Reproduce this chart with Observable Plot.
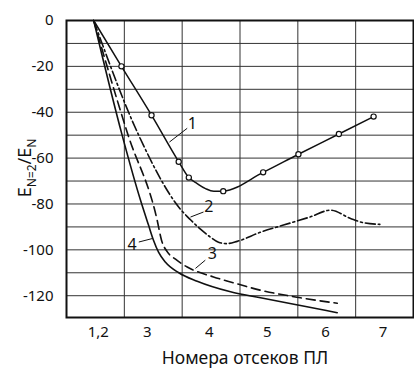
<!DOCTYPE html>
<html>
<head>
<meta charset="utf-8">
<script src="https://cdn.jsdelivr.net/npm/d3@7"></script>
<script src="https://cdn.jsdelivr.net/npm/@observablehq/plot@0.6"></script>
<style>
  html, body { margin: 0; padding: 0; background: #fff; }
  #chart svg { display: block; }
</style>
</head>
<body>
<div id="chart"></div>
<script>
// x units: compartment bands, grid lines at band edges (0.5 ... 6.5)
const xTicks = [1.05, 1.895, 2.97, 3.97, 4.98, 5.975];
const xLabels = ["1,2", "3", "4", "5", "6", "7"];
const yTicks = [0, -20, -40, -60, -80, -100, -120];

// Curve 1 (solid, with circles)
const c1x = [0.97, 1.45, 1.97, 2.44, 2.615, 2.76, 2.904, 3.047, 3.21, 3.90, 4.51, 5.21, 5.81];
const c1y = [0, -20, -41.3, -61.6, -68.5, -71.1, -73.3, -74.5, -74.4, -66.2, -58.3, -49.5, -41.9];
const m1x = [1.45, 1.97, 2.44, 2.615, 3.21, 3.90, 4.51, 5.21, 5.81];
const m1y = [-20, -41.3, -61.6, -68.5, -74.4, -66.2, -58.3, -49.5, -41.9];

// Curve 2 (dash-dot)
const c2x = [0.97, 1.75, 2.471, 2.644, 2.817, 2.99, 3.128, 3.267, 3.452, 3.855, 4.252, 4.719, 5.065, 5.411, 5.641, 5.918];
const c2y = [0, -50.1, -82.3, -86.9, -91.0, -94.5, -96.7, -97.3, -96.3, -92.3, -89.2, -85.6, -82.7, -86.3, -88.2, -88.9];

// Curve 3 (dashed)
const c3x = [0.97, 1.567, 2.068, 2.143, 2.247, 2.385, 2.587, 3.042, 3.336, 3.855, 4.546, 5.181];
const c3y = [0, -50.1, -87.1, -95.8, -101.0, -104.1, -107.5, -111.8, -114.0, -117.6, -120.9, -123.3];

// Curve 4 (solid)
const c4x = [0.97, 1.463, 1.78, 1.918, 2.004, 2.091, 2.212, 2.442, 2.76, 3.336, 3.855, 4.546, 5.181];
const c4y = [0, -50.1, -78.4, -89.2, -95.8, -101.0, -105.4, -110.0, -113.7, -118.3, -120.9, -124.3, -127.4];

// Curve labels and leader lines
const labText = ["1", "2", "3", "4"];
const labX = [2.674, 2.961, 3.02, 1.636];
const labY = [-45.0, -81.3, -101.6, -98.0];
const leadX1 = [2.28, 2.644, 2.73, 1.75];
const leadY1 = [-53.0, -85.7, -108.1, -96.6];
const leadX2 = [2.587, 2.869, 2.90, 1.98];
const leadY2 = [-47.0, -83.5, -104.5, -95.1];

const toPts = (xs, ys) => xs.map((x, i) => ({x, y: ys[i]}));
const curve1 = toPts(c1x, c1y), marks1 = toPts(m1x, m1y);
const curve2 = toPts(c2x, c2y), curve3 = toPts(c3x, c3y), curve4 = toPts(c4x, c4y);
const labels = labText.map((t, i) => ({t, x: labX[i], y: labY[i]}));
const leaders = labText.map((t, i) => ({x1: leadX1[i], y1: leadY1[i], x2: leadX2[i], y2: leadY2[i]}));
const vGrid = d3.range(0.5, 7, 1);
const hGrid = d3.range(-120, 1, 10);

const FONT = "'Noto Sans', sans-serif";
const ink = "#111";
const fmtX = d => xLabels[xTicks.indexOf(d)];

const plot = Plot.plot({
  width: 414,
  height: 371,
  marginLeft: 66,
  marginRight: 1,
  marginTop: 20,
  marginBottom: 54,
  style: {fontFamily: FONT, fontSize: "14px", color: ink, background: "#fff"},
  x: {domain: [0.5, 6.5], label: null},
  y: {domain: [-129.5, 0], label: null},
  marks: [
    Plot.ruleX(vGrid, {stroke: "#333", strokeWidth: 1}),
    Plot.ruleY(hGrid, {stroke: "#333", strokeWidth: 1}),
    Plot.line(curve4, {x: "x", y: "y", stroke: ink, strokeWidth: 1.6, curve: "monotone-x"}),
    Plot.line(curve3, {x: "x", y: "y", stroke: ink, strokeWidth: 1.6, strokeDasharray: "9,5", curve: "monotone-x"}),
    Plot.line(curve2, {x: "x", y: "y", stroke: ink, strokeWidth: 1.6, strokeDasharray: "10,3,2,3", curve: "monotone-x"}),
    Plot.line(curve1, {x: "x", y: "y", stroke: ink, strokeWidth: 1.5, curve: "monotone-x"}),
    Plot.dot(marks1, {x: "x", y: "y", r: 2.6, stroke: ink, fill: "#fff", strokeWidth: 1.2}),
    Plot.link(leaders, {x1: "x1", y1: "y1", x2: "x2", y2: "y2", stroke: ink, strokeWidth: 1}),
    Plot.text(labels, {x: "x", y: "y", text: "t", fontSize: 16, fill: ink}),
    Plot.frame({stroke: ink, strokeWidth: 2}),
    Plot.axisX({ticks: xTicks, tickFormat: fmtX, tickSize: 0, tickPadding: 9, fontSize: 15, label: null}),
    Plot.axisY({ticks: yTicks, tickFormat: d => String(d), tickSize: 0, tickPadding: 13, fontSize: 15, label: null})
  ]
});

const svg = d3.select(plot);
// x-axis title
svg.append("text")
  .attr("x", 245).attr("y", 364)
  .attr("text-anchor", "middle")
  .attr("font-family", FONT).attr("font-size", 17.5)
  .attr("fill", ink)
  .text("Номера отсеков ПЛ");
// y-axis title with subscripts
const yt = svg.append("text")
  .attr("transform", "translate(31,168) rotate(-90)")
  .attr("text-anchor", "middle")
  .attr("font-family", FONT).attr("font-size", 18)
  .attr("fill", ink);
yt.append("tspan").text("E");
yt.append("tspan").attr("font-size", 12).attr("dy", 5).text("N=2");
yt.append("tspan").attr("dy", -5).text("/E");
yt.append("tspan").attr("font-size", 12).attr("dy", 5).text("N");

document.getElementById("chart").appendChild(plot);
</script>
</body>
</html>
